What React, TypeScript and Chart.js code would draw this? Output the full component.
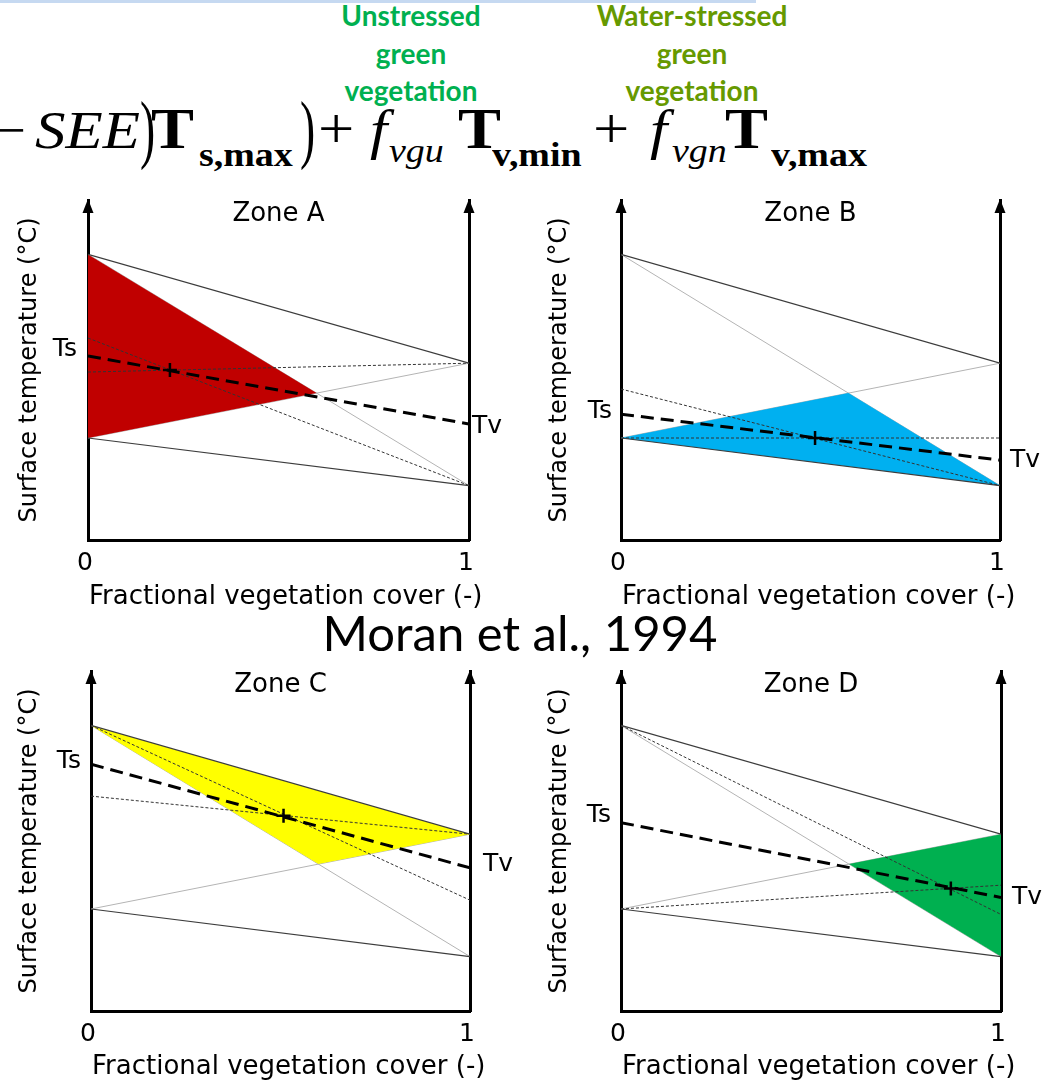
import React, { useEffect, useRef } from 'react';
import { Chart, registerables } from 'chart.js';

Chart.register(...registerables);

// ---------------- data ----------------
const ZONE_TITLES = ['Zone A', 'Zone B', 'Zone C', 'Zone D'];
const ZONE_COLORS = ['#c00000', '#00b0f0', '#ffff00', '#00b050'];
const FV_ENDS = [0, 1];
const DRY_EDGE = [84, 52];
const WET_EDGE = [30, 16];
const DIAG_DOWN = [84, 16];
const DIAG_UP = [30, 52];
const ZONE_FILL_X = [[0, 0.6, 0], [0, 0.6, 1], [0, 0.6, 1], [1, 0.6, 1]];
const ZONE_FILL_Y = [[84, 43.2, 30], [30, 43.2, 16], [84, 43.2, 52], [52, 43.2, 16]];
const TS_VALUES = [54.1, 37, 72.6, 55.4];
const TV_VALUES = [34.1, 23.5, 42.1, 33.4];
const PIXEL_FV = [0.215, 0.512, 0.508, 0.868];
const PIXEL_T = [50, 30, 57.4, 36];
const GUIDE_A = [[59.4, 16], [44.4, 16], [63.2, 52], [84, 28.4]];
const GUIDE_B = [[49.4, 52], [30, 30], [84, 32.6], [30, 37]];
const X_TICKS = [0, 1];
const X_TICK_LABELS = ['0', '1'];
const X_TITLE = 'Fractional vegetation cover (-)';
const Y_TITLE = 'Surface temperature (°C)';
const TS_LABEL = 'Ts';
const TV_LABEL = 'Tv';
const Y_MIN = 0;
const Y_MAX = 100;

// ---------------- layout ----------------
const FONT = '"DejaVu Sans", sans-serif';
const SERIF = '"Liberation Serif", "Times New Roman", serif';
const CALI = 'Lato, "Open Sans", sans-serif';
const CANVAS_H = 430;
const PANELS = [
  { left: 0, top: 190, width: 520, yW: 88, y2W: 51, tsOff: -7, tvOff: 2, tsPad: 11, tvPad: 3, xtOff: 57 },
  { left: 530, top: 190, width: 522, yW: 91, y2W: 52, tsOff: -3, tvOff: 0, tsPad: 9, tvPad: 10, xtOff: 57 },
  { left: 0, top: 661, width: 520, yW: 91, y2W: 50, tsOff: -3, tvOff: -3, tsPad: 10, tvPad: 13, xtOff: 56 },
  { left: 530, top: 661, width: 522, yW: 91, y2W: 51, tsOff: -7, tvOff: 0, tsPad: 10, tvPad: 11, xtOff: 56 },
];

const seg = (ys: number[]) => FV_ENDS.map((x, k) => ({ x, y: ys[k] }));

const arrowPlugin = {
  id: 'axisArrows',
  afterDraw(chart: any) {
    const { ctx, chartArea } = chart;
    ctx.save();
    ctx.fillStyle = '#000';
    for (const x of [chartArea.left, chartArea.right]) {
      ctx.beginPath();
      ctx.moveTo(x, chartArea.top - 1);
      ctx.lineTo(x - 5.5, chartArea.top + 13);
      ctx.lineTo(x + 5.5, chartArea.top + 13);
      ctx.closePath();
      ctx.fill();
    }
    ctx.restore();
  },
};

// x-axis title drawn left-aligned from the axis origin, allowed to run past the plot area
const xTitlePlugin = {
  id: 'xTitleFree',
  afterDraw(chart: any, _args: any, opts: any) {
    const { ctx, chartArea } = chart;
    ctx.save();
    ctx.font = `26px ${FONT}`;
    ctx.fillStyle = '#000';
    ctx.textAlign = 'left';
    ctx.textBaseline = 'middle';
    ctx.fillText(opts.text, chartArea.left + 1, chartArea.bottom + opts.offset);
    ctx.restore();
  },
};

function buildConfig(i: number) {
  const p = PANELS[i];
  const line = (ys: number[], color: string, width: number, dash: number[]) => ({
    data: seg(ys),
    borderColor: color,
    borderWidth: width,
    borderDash: dash,
    pointRadius: 0,
    fill: false,
  });
  const titleSize = 26;
  const titleLH = titleSize * 1.2;
  return {
    type: 'line',
    data: {
      datasets: [
        {
          data: [{ x: PIXEL_FV[i], y: PIXEL_T[i] }],
          showLine: false,
          pointStyle: 'cross',
          pointRadius: 7,
          pointBorderWidth: 2.5,
          pointBorderColor: '#000',
          borderColor: '#000',
        },
        line([TS_VALUES[i], TV_VALUES[i]], '#000', 3, [13, 7]),
        line(GUIDE_A[i], '#333', 1, [3, 2]),
        line(GUIDE_B[i], '#333', 1, [3, 2]),
        line(DRY_EDGE, '#3c3c3c', 1.2, []),
        line(WET_EDGE, '#3c3c3c', 1.2, []),
        {
          data: ZONE_FILL_X[i].map((x, k) => ({ x, y: ZONE_FILL_Y[i][k] })),
          borderWidth: 0,
          borderColor: ZONE_COLORS[i],
          backgroundColor: ZONE_COLORS[i],
          fill: 'shape',
          pointRadius: 0,
        },
        line(DIAG_DOWN, '#b4b4b4', 1, []),
        line(DIAG_UP, '#b4b4b4', 1, []),
      ],
    },
    options: {
      responsive: false,
      animation: false,
      events: [],
      layout: { autoPadding: false, padding: { top: 10, left: 0, right: 0, bottom: 0 } },
      plugins: {
        legend: { display: false },
        tooltip: { enabled: false },
        xTitleFree: { text: X_TITLE, offset: p.xtOff },
        title: {
          display: true,
          text: ZONE_TITLES[i],
          fullSize: false,
          color: '#000',
          font: { family: FONT, size: titleSize, weight: 'normal', lineHeight: 1.2 },
          padding: { top: 14 - titleLH / 2, bottom: -(14 + titleLH / 2) },
        },
      },
      scales: {
        x: {
          type: 'linear',
          position: 'bottom',
          min: 0,
          max: 1,
          afterBuildTicks: (s: any) => { s.ticks = X_TICKS.map((v) => ({ value: v })); },
          afterFit: (s: any) => { s.height = 80; s.paddingLeft = 0; s.paddingRight = 0; },
          grid: { display: false, drawTicks: false },
          border: { display: true, color: '#000', width: 3 },
          ticks: {
            color: '#000',
            font: { family: FONT, size: 25 },
            padding: 8,
            labelOffset: -3,
            maxRotation: 0,
            autoSkip: false,
            callback: (_v: any, idx: number) => X_TICK_LABELS[idx],
          },
          title: { display: false, text: X_TITLE },
        },
        y: {
          type: 'linear',
          position: 'left',
          min: Y_MIN,
          max: Y_MAX,
          afterBuildTicks: (s: any) => { s.ticks = [{ value: TS_VALUES[i] }]; },
          afterFit: (s: any) => { s.width = p.yW; s.paddingTop = 0; s.paddingBottom = 0; },
          grid: { display: false, drawTicks: false },
          border: { display: true, color: '#000', width: 3 },
          ticks: {
            color: '#000',
            font: { family: FONT, size: 25 },
            padding: p.tsPad,
            labelOffset: p.tsOff,
            callback: () => TS_LABEL,
          },
          title: {
            display: true,
            text: Y_TITLE,
            color: '#000',
            font: { family: FONT, size: 24 },
            padding: { top: 15, bottom: 0 },
          },
        },
        y2: {
          type: 'linear',
          position: 'right',
          min: Y_MIN,
          max: Y_MAX,
          afterBuildTicks: (s: any) => { s.ticks = [{ value: TV_VALUES[i] }]; },
          afterFit: (s: any) => { s.width = p.y2W; s.paddingTop = 0; s.paddingBottom = 0; },
          grid: { display: false, drawTicks: false },
          border: { display: true, color: '#000', width: 3 },
          ticks: {
            color: '#000',
            font: { family: FONT, size: 25 },
            padding: p.tvPad,
            labelOffset: p.tvOff,
            callback: () => TV_LABEL,
          },
        },
      },
    },
    plugins: [arrowPlugin, xTitlePlugin],
  };
}

function Panel({ index }: { index: number }) {
  const ref = useRef<HTMLCanvasElement>(null);
  useEffect(() => {
    const chart = new Chart(ref.current as HTMLCanvasElement, buildConfig(index) as any);
    return () => chart.destroy();
  }, [index]);
  const p = PANELS[index];
  return (
    <canvas
      ref={ref}
      width={p.width}
      height={CANVAS_H}
      style={{ position: 'absolute', left: p.left, top: p.top, width: p.width, height: CANVAS_H }}
    />
  );
}

type PieceProps = { x: number; base: number; size: number; text: string; bold?: boolean; italic?: boolean; sx?: number };
function Piece({ x, base, size, text, bold, italic, sx = 1.15 }: PieceProps) {
  return (
    <span
      style={{
        position: 'absolute',
        left: x,
        top: base - 0.8375 * size,
        fontFamily: SERIF,
        fontSize: size,
        lineHeight: `${size}px`,
        fontWeight: bold ? 'bold' : 'normal',
        fontStyle: italic ? 'italic' : 'normal',
        whiteSpace: 'nowrap',
        transform: `scaleX(${sx})`,
        transformOrigin: 'left top',
        color: '#000',
      }}
    >
      {text}
    </span>
  );
}

const FORMULA: PieceProps[] = [
  { x: -8, base: 148, size: 53, text: '−' },
  { x: 35, base: 148, size: 53, text: 'SEE', italic: true },
  { x: 140, base: 154, size: 76, text: ')', sx: 0.6 },
  { x: 151, base: 148, size: 56, text: 'T', bold: true },
  { x: 199, base: 167, size: 33, text: 's,max', bold: true },
  { x: 300, base: 154, size: 76, text: ')', sx: 0.6 },
  { x: 318, base: 148, size: 56, text: '+' },
  { x: 370, base: 148, size: 54, text: 'f', italic: true },
  { x: 389, base: 163, size: 33, text: 'vgu', italic: true },
  { x: 458, base: 148, size: 56, text: 'T', bold: true },
  { x: 492, base: 167, size: 33, text: 'v,min', bold: true },
  { x: 593, base: 148, size: 56, text: '+' },
  { x: 650, base: 148, size: 54, text: 'f', italic: true },
  { x: 672, base: 163, size: 33, text: 'vgn', italic: true },
  { x: 725, base: 148, size: 56, text: 'T', bold: true },
  { x: 771, base: 167, size: 33, text: 'v,max', bold: true },
];

const LABELS = [
  { cx: 411, color: '#00b050', lines: ['Unstressed', 'green', 'vegetation'] },
  { cx: 692, color: '#669900', lines: ['Water-stressed', 'green', 'vegetation'] },
];

export default function App() {
  return (
    <div style={{ position: 'absolute', left: 0, top: 0, width: 1052, height: 1083, overflow: 'hidden', background: '#fff' }}>
      <div style={{ position: 'absolute', left: 0, top: 0, width: 756, height: 3, background: '#c6d9f1' }} />
      {LABELS.map((l, k) => (
        <div
          key={k}
          style={{
            position: 'absolute',
            left: l.cx - 150,
            top: -3,
            width: 300,
            textAlign: 'center',
            fontFamily: CALI,
            fontWeight: 'bold',
            fontSize: 28,
            lineHeight: '37.5px',
            color: l.color,
          }}
        >
          {l.lines.map((t, j) => (
            <div key={j}>{t}</div>
          ))}
        </div>
      ))}
      {FORMULA.map((f, k) => (
        <Piece key={k} {...f} />
      ))}
      <div
        style={{
          position: 'absolute',
          left: 220,
          top: 608,
          width: 600,
          textAlign: 'center',
          fontFamily: CALI,
          fontSize: 49,
          lineHeight: '49px',
          color: '#000',
          whiteSpace: 'nowrap',
        }}
      >
        Moran et al., 1994
      </div>
      {PANELS.map((_, i) => (
        <Panel key={i} index={i} />
      ))}
    </div>
  );
}
